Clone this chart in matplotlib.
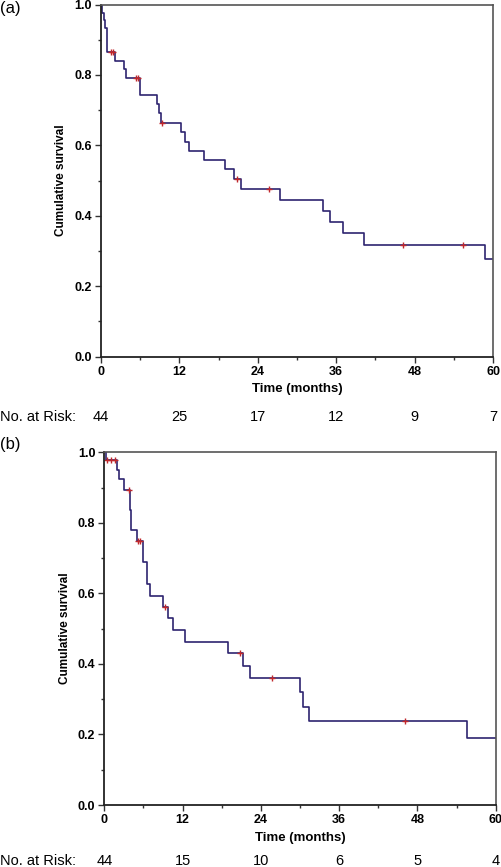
import numpy as np
import matplotlib
matplotlib.use('Agg')
import matplotlib.pyplot as plt
from matplotlib.ticker import MultipleLocator

# panel (a): event times (months) and survival level after each drop
times_a = [0.2, 0.45, 0.65, 0.9, 2.1, 3.5, 3.8, 6.0, 8.5, 8.8, 9.2, 12.25,
           12.9, 13.4, 15.8, 19.0, 20.4, 21.5, 27.4, 33.9, 35.1, 37.0, 40.3,
           58.8]
surv_a = [0.977, 0.955, 0.932, 0.864, 0.841, 0.816, 0.792, 0.743, 0.717,
          0.691, 0.664, 0.639, 0.610, 0.585, 0.558, 0.532, 0.505, 0.476,
          0.444, 0.413, 0.382, 0.350, 0.317, 0.277]
censor_a = [1.5, 1.85, 5.3, 5.7, 9.3, 20.8, 25.7, 46.2, 55.4]
risk_a = [44, 25, 17, 12, 9, 7]

# panel (b)
times_b = [0.25, 1.9, 2.3, 3.0, 3.95, 4.1, 4.97, 6.0, 6.5, 7.0, 9.05, 9.8,
           10.6, 12.4, 18.9, 21.2, 22.3, 30.0, 30.4, 31.3, 55.6]
surv_b = [0.977, 0.950, 0.923, 0.893, 0.836, 0.780, 0.749, 0.688, 0.626,
          0.594, 0.562, 0.529, 0.496, 0.463, 0.430, 0.394, 0.359, 0.320,
          0.279, 0.239, 0.191]
censor_b = [0.4, 1.1, 1.6, 3.8, 5.1, 5.5, 9.3, 20.8, 25.7, 46.1]
risk_b = [44, 15, 10, 6, 5, 4]

risk_months = [0, 12, 24, 36, 48, 60]
t_max = 60

line_color = '#2e2470'
censor_color = '#c0282d'
tick_font = ['Liberation Sans Narrow', 'Liberation Sans', 'DejaVu Sans']
text_font = ['Liberation Sans', 'DejaVu Sans']


def km_panel(fig, rect, times, surv, censor, risk, label, label_y, risk_y):
    ax = fig.add_axes(rect)
    t = np.r_[0, times, t_max]
    s = np.r_[1.0, surv, surv[-1]]
    ax.step(t, s, where='post', color=line_color, lw=1.2)
    # censor marks sit on the curve level at their time
    idx = np.searchsorted(times, censor, side='right')
    cs = np.r_[1.0, surv][idx]
    ax.plot(censor, cs, ls='none', marker='+', ms=5, mew=1.0,
            color=censor_color)

    ax.set_xlim(0, t_max)
    ax.set_ylim(0, 1.0)
    ax.xaxis.set_major_locator(MultipleLocator(12))
    ax.xaxis.set_minor_locator(MultipleLocator(6))
    ax.yaxis.set_major_locator(MultipleLocator(0.2))
    ax.yaxis.set_minor_locator(MultipleLocator(0.1))
    ax.yaxis.set_major_formatter(plt.FuncFormatter(lambda v, p: f'{v:.1f}'))
    ax.tick_params(which='major', direction='out', length=4, width=1,
                   color='#333333', pad=2.5)
    ax.tick_params(which='minor', direction='out', length=2.5, width=1,
                   color='#333333')
    for lab in ax.get_xticklabels() + ax.get_yticklabels():
        lab.set_family(tick_font)
        lab.set_fontsize(9)
        lab.set_fontweight('bold')
    for side in ['left', 'bottom']:
        ax.spines[side].set_color('#222222')
        ax.spines[side].set_linewidth(1.3)
    for side in ['top', 'right']:
        ax.spines[side].set_color('#555555')
        ax.spines[side].set_linewidth(1.2)
    ax.set_xlabel('Time (months)', family=tick_font, fontsize=9.5,
                  fontweight='bold', labelpad=4)
    ax.set_ylabel('Cumulative survival', family=text_font, fontsize=8.5,
                  fontweight='bold', labelpad=5)

    fig.text(0.0, label_y, label, family=text_font, fontsize=12,
             va='center', ha='left')

    # at-risk row below the axis
    fig.text(0.0, risk_y, 'No. at Risk:', family=text_font, fontsize=10.5,
             va='center', ha='left')
    rect_bottom, rect_h = rect[1], rect[3]
    frac = (risk_y - rect_bottom) / rect_h
    for m, n in zip(risk_months, risk):
        ax.text(m, frac, str(n), family=text_font, fontsize=10.5,
                ha='center', va='center', clip_on=False,
                transform=ax.get_xaxis_transform())
    return ax


fig = plt.figure(figsize=(5.02, 8.67), dpi=100)

km_panel(fig, [0.2012, 0.5886, 0.781, 0.4062], times_a, surv_a,
         censor_a, risk_a, '(a)', 1 - 8 / 867, 1 - 417 / 867)
km_panel(fig, [0.2078, 0.0715, 0.7797, 0.4068], times_b, surv_b,
         censor_b, risk_b, '(b)', 1 - 445 / 867, 1 - 861 / 867)

fig.savefig('out.png', dpi=100)
